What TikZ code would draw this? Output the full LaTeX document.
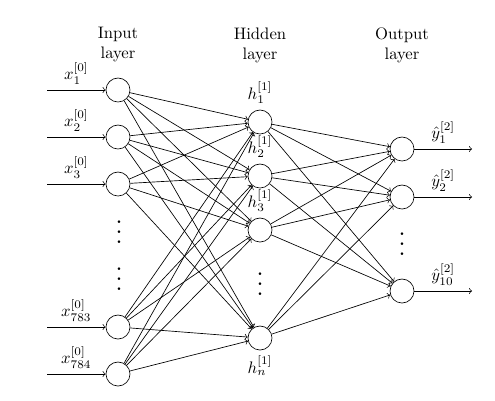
\documentclass[tikz,border=0pt]{standalone}
\begin{document}
\begin{tikzpicture}[x=0.6pt,y=-0.6pt,
  neuron/.style={circle,draw,minimum size=14.4pt,inner sep=0pt},
  title/.style={align=center,font=\normalsize},
  vdot/.style={scale=1.5,inner sep=0pt},
  conn/.style={->}]
\useasboundingbox (0,0) rectangle (495,400);
% titles
\node[title] (tin) at (118,45) {Input\\layer};
\node[title] (thid) at (260,45) {Hidden\\layer};
\node[title] (tout) at (402,45) {Output\\layer};
% input layer
\node[neuron] (i1) at (118,90) {};
\node[neuron] (i2) at (118,137) {};
\node[neuron] (i3) at (118,184) {};
\node[neuron] (i4) at (118,327) {};
\node[neuron] (i5) at (118,374) {};
% hidden layer
\node[neuron] (h1) at (260,122) {};
\node[neuron] (h2) at (260,176) {};
\node[neuron] (h3) at (260,230) {};
\node[neuron] (h4) at (260,338) {};
% output layer
\node[neuron] (o1) at (402,149) {};
\node[neuron] (o2) at (402,197) {};
\node[neuron] (o3) at (402,291) {};
% dots
\node[vdot] (d1) at (119,224.5) {$\vdots$};
\node[vdot] (d2) at (119,271.5) {$\vdots$};
\node[vdot] (d3) at (260,276.5) {$\vdots$};
\node[vdot] (d4) at (402,236.5) {$\vdots$};
% hidden labels
\node[above] (lh1) at (h1.north) {$h_1^{[1]}$};
\node[above] (lh2) at (h2.north) {$h_2^{[1]}$};
\node[above] (lh3) at (h3.north) {$h_3^{[1]}$};
\node[below] (lh4) at (h4.south) {$h_n^{[1]}$};
% input arrows
\coordinate (a1) at (47,90);
\coordinate (a2) at (47,137);
\coordinate (a3) at (47,184);
\coordinate (a4) at (47,327);
\coordinate (a5) at (47,374);
\draw[conn] (a1) -- node[above] {$x_1^{[0]}$} (i1);
\draw[conn] (a2) -- node[above] {$x_2^{[0]}$} (i2);
\draw[conn] (a3) -- node[above] {$x_3^{[0]}$} (i3);
\draw[conn] (a4) -- node[above] {$x_{783}^{[0]}$} (i4);
\draw[conn] (a5) -- node[above] {$x_{784}^{[0]}$} (i5);
% output arrows
\coordinate (b1) at (472,149);
\coordinate (b2) at (472,197);
\coordinate (b3) at (472,291);
\draw[conn] (o1) -- node[above] {$\hat{y}_1^{[2]}$} (b1);
\draw[conn] (o2) -- node[above] {$\hat{y}_2^{[2]}$} (b2);
\draw[conn] (o3) -- node[above] {$\hat{y}_{10}^{[2]}$} (b3);
% connections
\foreach \i in {i1,i2,i3,i4,i5}
  \foreach \h in {h1,h2,h3,h4}
    \draw[conn] (\i) -- (\h);
\foreach \h in {h1,h2,h3,h4}
  \foreach \o in {o1,o2,o3}
    \draw[conn] (\h) -- (\o);
\end{tikzpicture}
\end{document}
